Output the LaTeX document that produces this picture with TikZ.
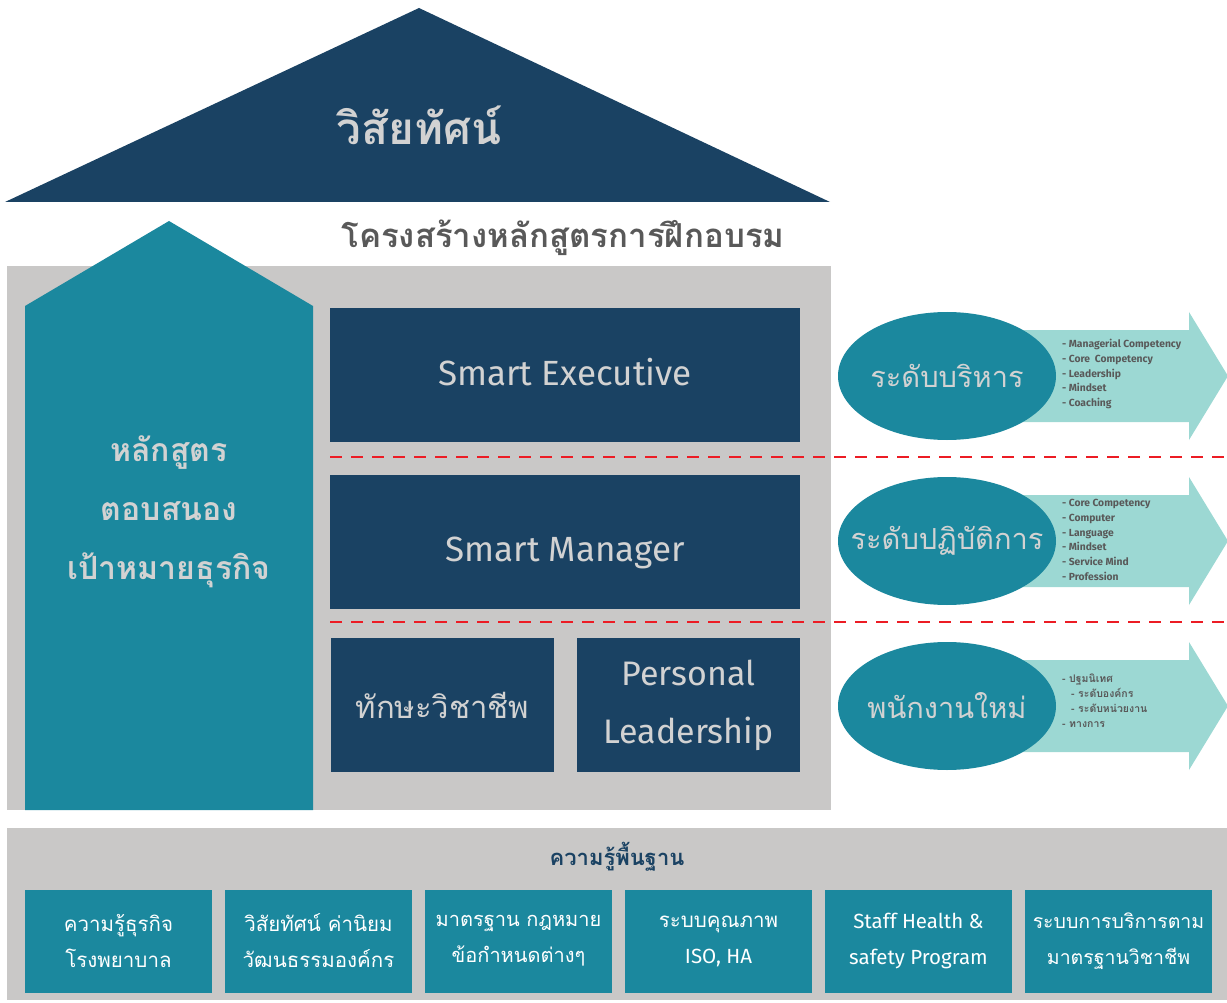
\documentclass[tikz,border=0pt]{standalone}
\usepackage{fontspec}
\setmainfont{Fira Sans}
\newfontfamily\thaifont[Script=Thai]{Loma}
\usetikzlibrary{shapes.geometric,positioning}
\definecolor{navy}{HTML}{1A4263}
\definecolor{courseteal}{HTML}{1B889E}
\definecolor{paleteal}{HTML}{9CD8D3}
\definecolor{panelgray}{HTML}{C9C8C7}
\definecolor{textgray}{HTML}{595959}
\definecolor{boxtext}{HTML}{D2D2D2}
\definecolor{dashred}{HTML}{EC1C24}
\tikzstyle{level} = [rectangle, fill=navy, text=boxtext, inner sep=0pt, align=center, minimum height=134pt]
\tikzstyle{grade} = [ellipse, fill=courseteal, text=boxtext, inner sep=0pt, minimum width=218pt, minimum height=128pt, font=\thaifont\fontsize{29}{34}\selectfont]
\tikzstyle{topics} = [anchor=north west, align=left, text=textgray, inner sep=0pt, font=\bfseries\fontsize{10.3}{14.8}\selectfont]
\tikzstyle{basebox} = [rectangle, fill=courseteal, text=white, inner sep=0pt, align=center, minimum width=187pt, minimum height=103pt, font=\fontsize{20.5}{36}\selectfont]

\begin{document}
\begin{tikzpicture}[x=1pt,y=-1pt]
    \useasboundingbox (0,0) rectangle (1227,1003);
    % roof
    \fill[navy] (5,202) -- (419,8) -- (830,202) -- cycle;
    \node (vision) [text=boxtext, font=\thaifont\bfseries\fontsize{44}{50}\selectfont] at (419,125) {วิสัยทัศน์};
    \node (title) [text=textgray, font=\thaifont\bfseries\fontsize{33}{38}\selectfont] at (563,238) {โครงสร้างหลักสูตรการฝึกอบรม};

    % panel and business pillar
    \fill[panelgray] (7,266) rectangle (831,810);
    \fill[courseteal] (25,810) -- (25,306) -- (169,221) -- (313,306) -- (313,810) -- cycle;
    \node (pillar) [text=boxtext, align=center, font=\thaifont\bfseries\fontsize{32}{59}\selectfont] at (169,512) {หลักสูตร\\ตอบสนอง\\เป้าหมายธุรกิจ};

    % course levels
    \node (exec) [level, minimum width=470pt, label={[text=boxtext, font=\fontsize{35}{40}\selectfont, yshift=3pt]center:Smart Executive}] at (565,375) {};
    \node (manager) [level, minimum width=470pt, label={[text=boxtext, font=\fontsize{35}{40}\selectfont, yshift=-11pt]center:Smart Manager}] at (565,542) {};
    \node (skill) [level, minimum width=223pt, font=\thaifont\fontsize{31}{40}\selectfont] at (442.5,705) {ทักษะวิชาชีพ};
    \node (personal) [level, minimum width=223pt, font=\fontsize{34}{58}\selectfont] at (688.5,705) {Personal\\Leadership};

    \draw[dashred, line width=2pt, dash pattern=on 12pt off 9pt] (330,457) -- (1227,457);
    \draw[dashred, line width=2pt, dash pattern=on 12pt off 9pt] (330,622) -- (1227,622);

    % target groups
    \foreach \cy in {376,541,706}
        \fill[paleteal] (1000,\cy-46) -- (1189,\cy-46) -- (1189,\cy-64) -- (1228,\cy)
            -- (1189,\cy+64) -- (1189,\cy+46) -- (1000,\cy+46) -- cycle;
    \node (mgmt) [grade] at (947,376) {\makebox[0pt]{ระดับบริหาร}};
    \node (ops) [grade] at (947,541) {\makebox[0pt]{ระดับปฏิบัติการ}};
    \node (newstaff) [grade] at (947,706) {\makebox[0pt]{พนักงานใหม่}};

    \node (mgmtlist) [topics] at (1062,339) {- Managerial Competency\\- Core\ \ Competency\\- Leadership\\- Mindset\\- Coaching};
    \node (opslist) [topics] at (1062,499) {- Core Competency\\- Computer\\- Language\\- Mindset\\- Service Mind\\- Profession};
    \node (newlist) [topics, font=\thaifont\bfseries\fontsize{10.5}{14.8}\selectfont] at (1062,674) {- ปฐมนิเทศ\\\hspace{9pt}- ระดับองค์กร\\\hspace{9pt}- ระดับหน่วยงาน\\- ทางการ};

    % foundation knowledge
    \fill[panelgray] (7,828) rectangle (1227,1000);
    \node (basics) [text=navy, font=\thaifont\bfseries\fontsize{22}{26}\selectfont] at (617,857) {ความรู้พื้นฐาน};
    \node (b1) [basebox, font=\thaifont\fontsize{20.5}{36}\selectfont] at (118.5,941) {ความรู้ธุรกิจ\\โรงพยาบาล};
    \node (b2) [basebox, font=\thaifont\fontsize{20.5}{36}\selectfont] at (318.5,941) {วิสัยทัศน์ ค่านิยม\\วัฒนธรรมองค์กร};
    \node (b3) [basebox, font=\thaifont\fontsize{20}{36}\selectfont] at (518.5,941) {มาตรฐาน กฎหมาย\\ข้อกำหนดต่างๆ};
    \node (b4) [basebox] at (718.5,941) {{\thaifont\fontsize{20.5}{36}\selectfont ระบบคุณภาพ}\\ISO, HA};
    \node (b5) [basebox] at (918.5,941) {Staff Health \&\\safety Program};
    \node (b6) [basebox, font=\thaifont\fontsize{19.5}{36}\selectfont] at (1118.5,941) {ระบบการบริการตาม\\มาตรฐานวิชาชีพ};
\end{tikzpicture}
\end{document}
